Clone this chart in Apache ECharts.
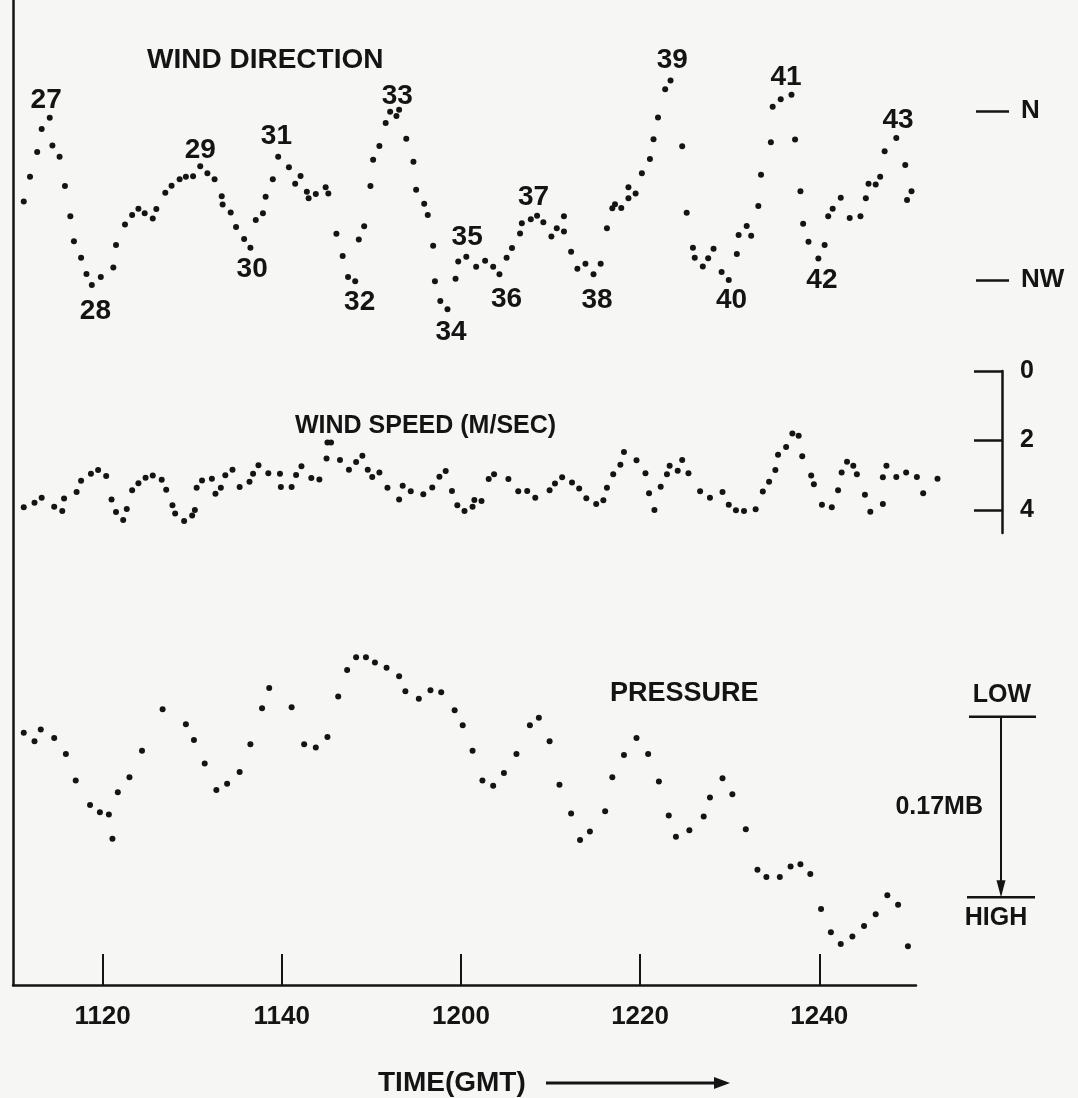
<!DOCTYPE html>
<html>
<head>
<meta charset="utf-8">
<script src="https://cdn.jsdelivr.net/npm/echarts@6/dist/echarts.min.js"></script>
<style>
html,body{margin:0;padding:0;background:#f6f6f4;}
#chart{width:1078px;height:1098px;}
</style>
</head>
<body>
<div id="chart"></div>
<script>
// Time is in minutes after 1100 GMT
const tickTimes = [20, 40, 60, 80, 100];
const tickLabels = ['1120', '1140', '1200', '1220', '1240'];

// Wind direction (degrees true; N = 360, NW = 315)
const dirTime = [
 11.2,11.9,12.7,13.2,14.1,14.4,15.2,15.8,16.4,16.8,
 17.6,18.2,18.8,19.8,21.2,21.5,22.5,23.3,24.0,24.7,
 25.6,26.0,27.0,27.7,28.6,29.3,30.1,30.9,31.7,32.5,
 33.3,33.4,34.3,34.9,35.8,36.5,37.1,37.9,38.2,39.0,
 39.6,40.8,41.5,42.1,42.8,43.0,43.8,44.9,45.2,46.1,
 46.8,47.4,48.2,48.6,49.2,49.9,50.2,50.9,51.6,52.1,
 52.8,53.1,53.9,54.7,55.0,55.9,56.3,56.9,57.1,57.7,
 58.5,59.4,59.7,60.6,61.7,62.7,63.6,64.3,65.1,65.7,
 66.6,66.8,67.8,68.5,69.2,70.1,70.7,71.5,71.5,72.3,
 73.0,73.9,74.8,75.6,76.3,76.9,77.2,77.9,78.7,78.7,
 79.5,80.2,81.1,81.5,82.0,82.8,83.4,84.7,85.2,85.9,
 86.1,87.0,87.6,88.2,89.1,89.9,90.8,91.0,91.9,92.4,
 93.2,93.5,94.6,94.8,95.7,96.9,97.3,97.9,98.2,98.8,
 99.9,100.6,101.0,101.5,102.4,103.4,104.6,105.2,105.5,106.3,
 106.8,107.3,108.6,109.6,110.3,109.8];
const dirValue = [
 335.9,342.5,349.1,355.2,358.2,350.8,347.8,340.0,332.0,325.3,
 320.9,316.6,313.7,315.8,318.3,324.3,329.8,332.3,334.0,332.8,
 331.4,333.9,338.2,340.1,341.8,342.5,342.6,345.3,343.4,341.8,
 337.3,335.1,333.0,329.1,325.9,323.6,331.0,332.8,337.2,341.8,
 347.8,345.0,340.6,342.7,338.5,336.8,337.9,339.7,338.0,327.3,
 321.4,315.8,314.7,325.8,329.3,340.0,347.0,350.7,356.8,359.8,
 358.7,360.3,352.6,346.5,339.0,335.3,332.3,324.1,314.7,309.4,
 307.2,315.3,319.9,321.2,318.5,320.1,318.5,316.5,320.9,323.5,
 327.4,330.1,331.2,332.1,330.4,326.6,328.8,332.0,327.9,322.5,
 318.0,319.3,316.5,319.3,328.8,334.1,335.2,334.2,339.7,336.8,
 338.0,343.4,347.2,352.5,358.3,365.8,368.1,350.6,332.9,323.6,
 320.9,318.6,320.8,323.3,317.1,315.0,321.9,327.0,329.4,326.8,
 334.7,343.0,351.7,361.1,363.1,364.3,352.4,338.6,330.0,325.2,
 320.7,324.3,332.0,334.0,336.9,331.5,332.0,336.8,340.6,340.4,
 342.5,349.3,352.8,345.6,338.6,336.3];

// Numbered turning points of the wind direction trace
const markTexts = ['27','28','29','30','31','32','33','34','35','36','37','38','39','40','41','42','43'];
const markTime  = [13.7,19.2,30.9,36.7,39.4,48.7,52.9,58.9,60.7,65.1,68.1,75.2,83.6,90.2,96.3,100.3,108.8];
const markDir   = [362.9,306.8,349.6,317.9,353.2,309.0,364.0,301.2,326.3,309.9,337.0,309.7,373.4,309.7,369.0,314.8,357.6];
const dirTicks = [315, 360];
const dirTickLabels = ['NW', 'N'];

// Wind speed (m/s)
const spdTime = [
 11.2,12.4,13.2,14.6,15.5,15.7,17.1,17.6,18.7,19.5,
 20.4,21.0,21.5,22.3,22.7,23.3,24.0,24.8,25.6,26.6,
 27.1,27.8,28.1,29.1,30.0,30.3,30.5,31.1,32.2,32.6,
 33.2,33.7,34.5,35.3,36.4,36.8,37.4,38.5,39.8,39.9,
 41.1,41.6,42.2,43.3,44.2,45.0,45.1,45.5,46.5,47.5,
 48.3,49.0,49.6,50.1,50.9,51.8,53.1,53.5,54.4,55.8,
 56.8,57.6,58.3,59.0,59.6,60.4,61.3,61.5,62.3,63.1,
 63.7,65.3,66.4,67.4,68.3,69.9,70.5,71.3,72.4,73.2,
 74.0,75.1,75.9,76.3,77.0,77.8,78.2,79.6,80.6,81.0,
 81.6,82.3,83.0,83.3,84.2,84.7,85.4,86.7,87.8,89.2,
 89.9,90.7,91.6,92.9,93.7,94.4,95.1,95.4,96.3,97.0,
 97.7,98.1,99.1,99.4,100.3,101.4,102.1,102.5,103.1,103.8,
 104.2,105.1,105.7,107.1,107.1,107.5,108.6,109.7,110.9,111.6,113.2];
const spdValue = [
 3.92,3.79,3.65,3.91,4.03,3.67,3.48,3.16,2.96,2.85,
 3.02,3.70,4.06,4.29,3.97,3.43,3.23,3.07,3.01,3.13,
 3.42,3.86,4.10,4.32,4.16,4.00,3.36,3.15,3.10,3.53,
 3.36,3.00,2.84,3.34,3.19,2.96,2.71,2.94,2.96,3.34,
 3.34,2.99,2.74,3.08,3.12,2.52,2.06,2.06,2.56,2.84,
 2.62,2.44,2.84,3.05,2.92,3.36,3.70,3.30,3.46,3.55,
 3.35,3.04,2.88,3.45,3.86,4.03,3.91,3.71,3.74,3.11,
 2.97,3.11,3.46,3.45,3.65,3.43,3.24,3.06,3.21,3.38,
 3.66,3.83,3.72,3.36,2.97,2.70,2.33,2.57,2.94,3.52,
 4.00,3.33,2.97,2.73,2.87,2.56,2.94,3.46,3.65,3.48,
 3.85,4.01,4.03,3.98,3.47,3.19,2.85,2.41,2.19,1.80,
 1.86,2.45,3.01,3.26,3.85,3.92,3.43,2.92,2.61,2.73,
 2.97,3.56,4.05,3.83,3.06,2.73,3.05,2.92,3.05,3.52,3.10];
const spdTicks = [0, 2, 4];

// Pressure rise above the LOW reference (mb); scale bar spans 0.17 mb
const presTime = [
 11.2,12.4,13.1,14.6,15.9,17.0,18.6,19.7,20.7,21.1,
 21.7,23.0,24.4,26.7,29.3,30.2,31.4,32.7,33.9,35.3,
 36.5,37.8,38.6,41.1,42.5,43.8,45.1,46.3,47.3,48.3,
 49.4,50.4,51.7,53.1,53.8,55.3,56.6,57.8,59.3,60.2,
 61.3,62.4,63.6,64.8,66.2,67.7,68.7,69.9,71.0,72.3,
 73.3,74.4,76.1,76.9,78.2,79.6,80.9,82.1,83.2,84.0,
 85.5,87.1,87.8,89.2,90.3,91.8,93.1,94.1,95.6,96.8,
 97.9,99.0,100.2,101.3,102.4,103.7,105.0,106.3,107.6,108.8,109.9];
const presValue = [
 0.015,0.023,0.012,0.020,0.035,0.060,0.083,0.090,0.092,0.115,
 0.071,0.057,0.032,-0.007,0.007,0.022,0.044,0.069,0.063,0.052,
 0.026,-0.008,-0.027,-0.009,0.026,0.029,0.019,-0.019,-0.044,-0.056,
 -0.056,-0.051,-0.046,-0.038,-0.024,-0.017,-0.025,-0.023,-0.006,0.008,
 0.032,0.060,0.065,0.053,0.035,0.008,0.001,0.023,0.064,0.091,
 0.116,0.108,0.089,0.057,0.036,0.020,0.035,0.061,0.093,0.113,
 0.107,0.094,0.076,0.058,0.073,0.106,0.144,0.151,0.151,0.141,
 0.139,0.148,0.181,0.203,0.214,0.207,0.197,0.186,0.168,0.177,0.216];
const presScale = [0, 0.17];
const presScaleLabel = '0.17MB';

const INK = '#141414';
const FONT = '"Liberation Sans", Arial, sans-serif';
const zip = (a, b) => a.map((v, i) => [v, b[i]]);

const chart = echarts.init(document.getElementById('chart'), null, {renderer: 'canvas'});

const dot = {color: INK, opacity: 1};
const xCommon = {type: 'value', min: 10, max: 110.8};
chart.setOption({
  backgroundColor: '#f6f6f4',
  animation: false,
  textStyle: {fontFamily: FONT, color: INK, fontWeight: 'bold'},
  grid: [
    {left: 13, top: 0, width: 903, height: 985},
    {left: 13, top: 371, width: 903, height: 162}
  ],
  xAxis: [
    Object.assign({}, xCommon, {
      gridIndex: 0, position: 'bottom',
      axisLine: {show: true, onZero: false, lineStyle: {color: INK, width: 2.5}},
      axisTick: {show: true, inside: true, length: 31, customValues: tickTimes, lineStyle: {color: INK, width: 2}},
      axisLabel: {show: true, customValues: tickTimes, margin: 19, fontSize: 26, fontWeight: 'bold', color: INK, fontFamily: FONT,
        formatter: v => tickLabels[tickTimes.indexOf(v)] || ''},
      splitLine: {show: false}
    }),
    Object.assign({}, xCommon, {gridIndex: 1, show: false, axisLine: {onZero: false}})
  ],
  yAxis: [
    { // wind direction
      type: 'value', gridIndex: 0, min: 127.28, max: 389.556, position: 'right', offset: 60,
      axisLine: {show: false, onZero: false},
      axisTick: {show: true, inside: false, length: 33, customValues: dirTicks, lineStyle: {color: INK, width: 2.5}},
      axisLabel: {show: true, customValues: dirTicks, margin: 45, fontSize: 26, fontWeight: 'bold', color: INK, fontFamily: FONT,
        formatter: v => dirTickLabels[dirTicks.indexOf(v)] || ''},
      splitLine: {show: false}
    },
    { // pressure (increasing downward); its line is the left frame
      type: 'value', gridIndex: 0, inverse: true, min: -0.67463, max: 0.25255, position: 'left',
      axisLine: {show: true, onZero: false, lineStyle: {color: INK, width: 2.5}},
      axisTick: {show: false}, axisLabel: {show: false}, splitLine: {show: false}
    },
    { // wind speed
      type: 'value', gridIndex: 1, inverse: true, min: 0, max: 4.662, position: 'right', offset: 86,
      axisLine: {show: true, onZero: false, lineStyle: {color: INK, width: 2.5}},
      axisTick: {show: true, inside: true, length: 28, customValues: spdTicks, lineStyle: {color: INK, width: 2.5}},
      axisLabel: {show: true, customValues: spdTicks, margin: 18, fontSize: 25, fontWeight: 'bold', color: INK, fontFamily: FONT},
      splitLine: {show: false}
    }
  ],
  series: [
    {type: 'scatter', name: 'WIND DIRECTION', xAxisIndex: 0, yAxisIndex: 0, clip: false,
      symbolSize: 6, itemStyle: dot, data: zip(dirTime, dirValue)},
    {type: 'scatter', name: 'marks', xAxisIndex: 0, yAxisIndex: 0, clip: false, symbolSize: 1,
      itemStyle: {color: 'rgba(0,0,0,0)', opacity: 1},
      label: {show: true, position: 'inside', fontSize: 28, fontWeight: 'bold', color: INK, opacity: 1, fontFamily: FONT,
        formatter: p => markTexts[p.dataIndex]},
      data: zip(markTime, markDir)},
    {type: 'scatter', name: 'WIND SPEED', xAxisIndex: 1, yAxisIndex: 2, clip: false,
      symbolSize: 6, itemStyle: dot, data: zip(spdTime, spdValue)},
    {type: 'scatter', name: 'PRESSURE', xAxisIndex: 0, yAxisIndex: 1, clip: false,
      symbolSize: 6, itemStyle: dot, data: zip(presTime, presValue)}
  ]
});

// pressure scale bar tied to the pressure axis
const yLow = chart.convertToPixel({yAxisIndex: 1}, presScale[0]);
const yHigh = chart.convertToPixel({yAxisIndex: 1}, presScale[1]);
const bx = 1001;
const txt = (x, y, s, align, size) => ({type: 'text', x: x, y: y,
  style: {text: s, fill: INK, font: 'bold ' + (size || 26) + 'px ' + FONT, textAlign: align || 'left', textVerticalAlign: 'middle'}});
const ln = (x1, y1, x2, y2, w) => ({type: 'line', shape: {x1, y1, x2, y2}, style: {stroke: INK, lineWidth: w || 2.5}});

chart.setOption({
  graphic: [
    txt(147, 60, 'WIND DIRECTION', 'left', 28),
    txt(295, 426, 'WIND SPEED (M/SEC)', 'left', 25),
    txt(610, 694, 'PRESSURE', 'left', 27),
    ln(969, yLow, 1036, yLow, 2.5),
    ln(967, yHigh, 1035, yHigh, 2.5),
    ln(bx, yLow, bx, yHigh - 14, 2),
    {type: 'polygon', shape: {points: [[bx - 4.5, yHigh - 17], [bx + 4.5, yHigh - 17], [bx, yHigh]]}, style: {fill: INK}},
    txt(1002, yLow - 22, 'LOW', 'center', 25),
    txt(996, yHigh + 21, 'HIGH', 'center', 25),
    txt(983, (yLow + yHigh) / 2, presScaleLabel, 'right', 25),
    txt(378, 1083, 'TIME(GMT)', 'left', 28),
    ln(546, 1083, 716, 1083, 3),
    {type: 'polygon', shape: {points: [[714, 1077], [714, 1089], [730, 1083]]}, style: {fill: INK}}
  ]
});
</script>
</body>
</html>
